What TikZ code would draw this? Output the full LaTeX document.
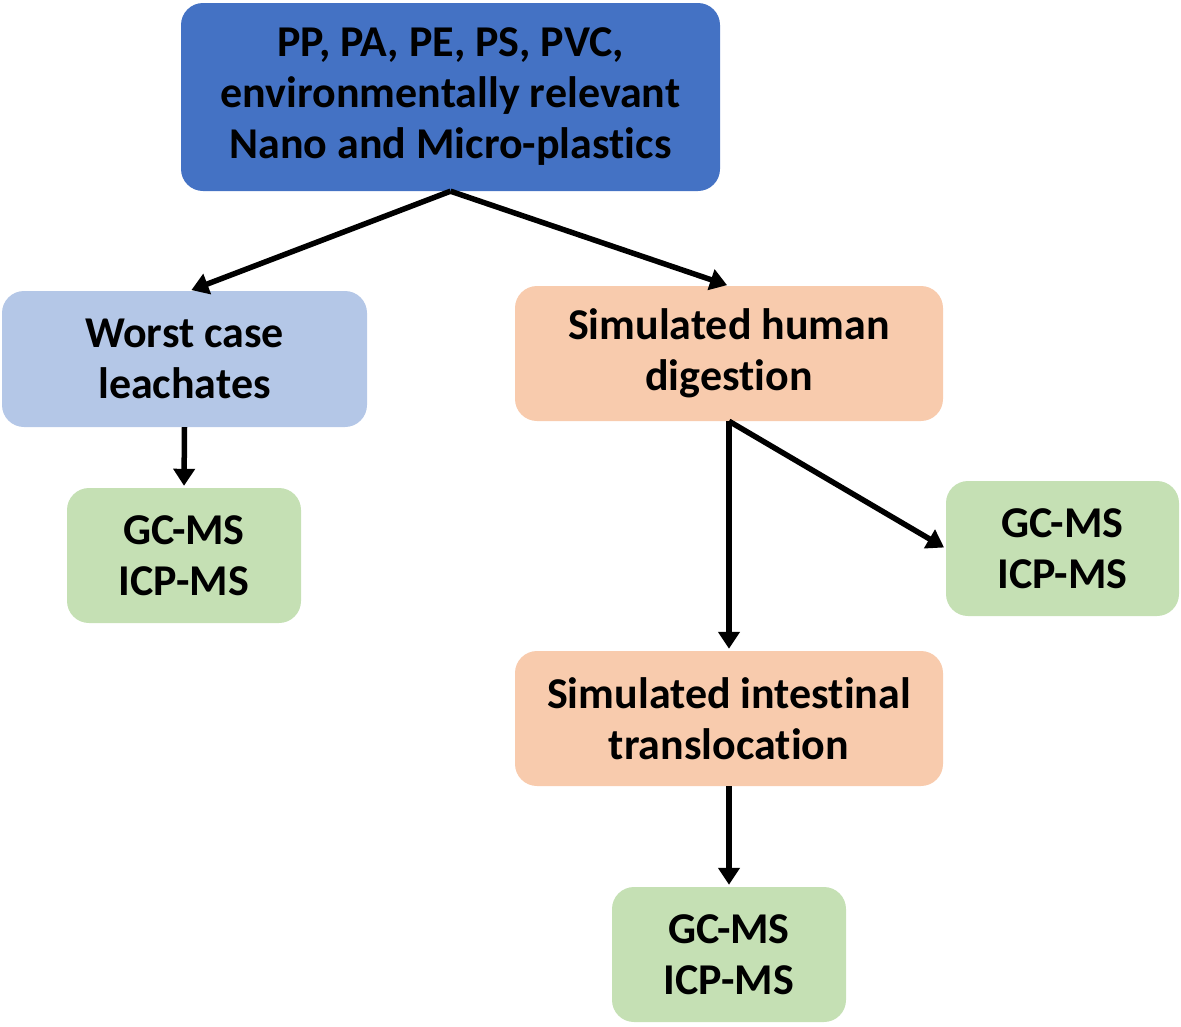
\documentclass[tikz,border=0pt]{standalone}
\usepackage{fontspec}
\setmainfont{Carlito}[Ligatures=NoCommon]
\usetikzlibrary{arrows.meta}
\definecolor{srcblue}{HTML}{4472C4}
\definecolor{leachblue}{HTML}{B4C7E7}
\definecolor{digpeach}{HTML}{F8CBAD}
\definecolor{msgreen}{HTML}{C5E0B4}
\tikzset{
  box/.style={rounded corners=22pt, align=center, inner sep=0pt,
    font=\fontsize{44}{51}\selectfont\bfseries},
  flow/.style={line width=5.5pt, -{Triangle[length=17pt,width=21pt]}, shorten >=2pt}
}
\begin{document}
\begin{tikzpicture}[x=1pt,y=-1pt]
\useasboundingbox (0,0) rectangle (1181,1026);
% Source box
\node[box, fill=srcblue, minimum width=539pt, minimum height=188pt]
  (src) at (450.5,97) {PP, PA, PE, PS, PVC,\\environmentally relevant\\Nano and Micro-plastics};
% Left branch
\node[box, fill=leachblue, minimum width=365pt, minimum height=136pt]
  (leach) at (184.5,359) {Worst case\\leachates};
\node[box, fill=msgreen, minimum width=234pt, minimum height=135pt]
  (gcl) at (184,555.5) {GC-MS\\ICP-MS};
% Right branch
\node[box, fill=digpeach, minimum width=428pt, minimum height=135pt]
  (digest) at (729,353.5) {Simulated human\\digestion};
\node[box, fill=msgreen, minimum width=233pt, minimum height=135pt]
  (gcr) at (1062.5,548.5) {GC-MS\\ICP-MS};
\node[box, fill=digpeach, minimum width=428pt, minimum height=135pt]
  (trans) at (729,718.5) {Simulated intestinal\\translocation};
\node[box, fill=msgreen, minimum width=234pt, minimum height=135pt]
  (gcb) at (729,954.5) {GC-MS\\ICP-MS};
% Arrows
\draw[flow] (src.south) -- ([xshift=5pt]leach.north);
\draw[flow] (src.south) -- (digest.north);
\draw[flow] (leach.south) -- (gcl.north);
\draw[flow] (digest.south) -- (trans.north);
\draw[flow] (digest.south) -- (gcr.west);
\draw[flow] (trans.south) -- (gcb.north);
\end{tikzpicture}
\end{document}
